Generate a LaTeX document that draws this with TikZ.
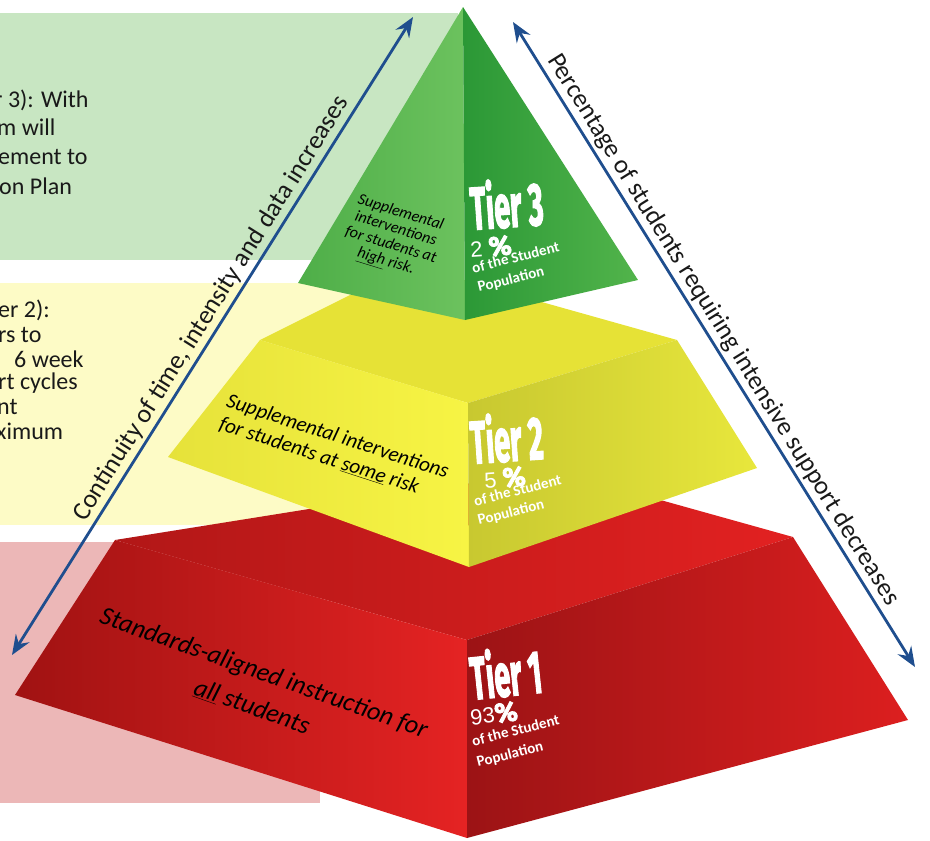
\documentclass[tikz,border=0pt]{standalone}
\usepackage{fontspec}
\setmainfont{Carlito}
\newfontfamily\headfont{Fira Sans}[BoldFeatures={FakeBold=3}]
\newfontfamily\numfont{Liberation Sans}
\usepackage{graphicx}
\usetikzlibrary{positioning, arrows.meta}
\definecolor{arrowblue}{HTML}{1F4E8E}
\definecolor{bgGreen}{HTML}{C8E6C2}
\definecolor{bgYellow}{HTML}{FDFBC6}
\definecolor{bgRed}{HTML}{ECB7B7}
\definecolor{greenLeftA}{HTML}{4EAE48}
\definecolor{greenLeftB}{HTML}{6CC25E}
\definecolor{greenRightA}{HTML}{2B9836}
\definecolor{greenRightB}{HTML}{52B44B}
\definecolor{yellowTop}{HTML}{E6E236}
\definecolor{yellowLeftA}{HTML}{E6E23A}
\definecolor{yellowLeftB}{HTML}{F7F444}
\definecolor{yellowRightA}{HTML}{C8C830}
\definecolor{yellowRightB}{HTML}{E8E73C}
\definecolor{redTopA}{HTML}{B21717}
\definecolor{redTopB}{HTML}{E22121}
\definecolor{redLeftA}{HTML}{A01212}
\definecolor{redLeftB}{HTML}{E52323}
\definecolor{redRightA}{HTML}{9C1315}
\definecolor{redRightB}{HTML}{DC1F1F}
\newcommand{\tiername}[1]{\scalebox{0.48}[1]{\headfont\bfseries #1}}

\begin{document}
\begin{tikzpicture}
        [
            x=1pt, y=-1pt,
            sidetext/.style={anchor=west, inner sep=0pt, text=black!90,
                             font=\fontsize{24}{28}\selectfont},
            axis/.style={{Stealth[length=20pt,width=16pt,inset=7pt]}-{Stealth[length=20pt,width=16pt,inset=7pt]},
                         line width=2.8pt, draw=arrowblue},
            axislabel/.style={sloped, above, inner sep=3pt, text=black!90,
                              font=\fontsize{26}{30}\selectfont},
            facetext/.style={inner sep=0pt, text=black},
            tiertitle/.style={anchor=west, inner sep=0pt, text=white,
                              font=\fontsize{60}{60}\selectfont},
            share/.style={anchor=west, inner sep=0pt, text=white},
            popline/.style={anchor=west, inner sep=0pt, text=white,
                            font=\fontsize{15}{17}\selectfont\bfseries, rotate=14}
        ]
        \useasboundingbox (0,0) rectangle (930,841);
        \fill [bgGreen] (0,13) rectangle (458,260);
        \fill [bgYellow] (0,283) rectangle (462,525);
        \fill [bgRed] (0,542) rectangle (320,803);

        \node (g1) [sidetext] at (-6,100) {r 3): With};
        \node (g2) [sidetext] at (-3,127) {m will};
        \node (g3) [sidetext] at (-2,157) {ement to};
        \node (g4) [sidetext] at (-1,186) {on Plan};
        \node (y1) [sidetext] at (-2,310) {er 2):};
        \node (y2) [sidetext] at (-2,335) {rs to};
        \node (y3) [sidetext] at (14,359) {6 week};
        \node (y4) [sidetext] at (-2,383) {rt cycles};
        \node (y5) [sidetext] at (-3,407) {nt};
        \node (y6) [sidetext] at (-4,431) {ximum};

        \coordinate (rTL) at (115,540);
        \coordinate (rBK) at (553,470);
        \coordinate (rTR) at (793,537);
        \coordinate (rTF) at (467,640);
        \coordinate (rBL) at (15,695);
        \coordinate (rBF) at (467,838);
        \coordinate (rBR) at (908,720);
        \coordinate (yTL) at (260,340);
        \coordinate (yBK) at (410,265);
        \coordinate (yTR) at (677,340);
        \coordinate (yTF) at (468,403);
        \coordinate (yBL) at (168,457);
        \coordinate (yBF) at (469,567);
        \coordinate (yBR) at (757,468);
        \coordinate (gA) at (463,7);
        \coordinate (gL) at (298,283);
        \coordinate (gF) at (465,320);
        \coordinate (gR) at (638,280);

        \shade [left color=redTopA, right color=redTopB] (rTL) -- (rBK) -- (rTR) -- (rTF) -- cycle;
        \shade [left color=redLeftA, right color=redLeftB] (rTL) -- (rTF) -- (rBF) -- (rBL) -- cycle;
        \shade [left color=redRightA, right color=redRightB] (rTF) -- (rTR) -- (rBR) -- (rBF) -- cycle;
        \fill [yellowTop] (yTL) -- (yBK) -- (yTR) -- (yTF) -- cycle;
        \shade [left color=yellowLeftA, right color=yellowLeftB] (yTL) -- (yTF) -- (yBF) -- (yBL) -- cycle;
        \shade [left color=yellowRightA, right color=yellowRightB] (yTF) -- (yTR) -- (yBR) -- (yBF) -- cycle;
        \shade [left color=greenLeftA, right color=greenLeftB] (gA) -- (gL) -- (gF) -- cycle;
        \shade [left color=greenRightA, right color=greenRightB] (gA) -- (gF) -- (gR) -- cycle;

        \coordinate (contA) at (12,655);
        \coordinate (contB) at (413,17);
        \coordinate (pctA) at (513,22);
        \coordinate (pctB) at (915,667);
        \draw [axis] (contA) -- node (contLabel) [axislabel, pos=0.53]
            {Continuity of time, intensity and data increases} (contB);
        \draw [axis] (pctA) -- node (pctLabel) [axislabel, pos=0.49]
            {Percentage of students requiring intensive support decreases} (pctB);

        \node (t3note) [facetext, rotate=-17, align=center,
                        font=\fontsize{16}{17}\selectfont\itshape] at (393,238)
            {Supplemental\\interventions\\for students at\\\underline{high} risk.};
        \node (t2note) [facetext, rotate=-18, align=left,
                        font=\fontsize{21}{24}\selectfont\itshape] at (334,448)
            {Supplemental interventions\\for students at \underline{some} risk};
        \node (t1note) [facetext, rotate=-19.5, align=center,
                        font=\fontsize{26}{36}\selectfont\itshape] at (258,690)
            {Standards-aligned instruction for\\\underline{all} students};

        \node (tier3) [tiertitle, rotate=4] at (470,206) {\tiername{Tier 3}};
        \node (pct3) [share, rotate=4] at (470,248)
            {{\numfont\fontsize{22}{22}\selectfont 2 }{\headfont\bfseries\fontsize{27}{27}\selectfont\%}};
        \node (of3) [popline] at (472,268) {of the Student};
        \node (pop3) [popline] at (478,288) {Population};

        \node (tier2) [tiertitle, rotate=4] at (470,440) {\tiername{Tier 2}};
        \node (pct2) [share, rotate=4] at (484,479)
            {{\numfont\fontsize{22}{22}\selectfont 5 }{\headfont\bfseries\fontsize{27}{27}\selectfont\%}};
        \node (of2) [popline] at (474,501) {of the Student};
        \node (pop2) [popline] at (478,521) {Population};

        \node (tier1) [tiertitle, rotate=6] at (470,676) {\tiername{Tier 1}};
        \node (pct1) [share, rotate=6] at (470,716)
            {{\numfont\fontsize{22}{22}\selectfont 93}{\headfont\bfseries\fontsize{27}{27}\selectfont\%}};
        \node (of1) [popline] at (472,741) {of the Student};
        \node (pop1) [popline] at (477,763) {Population};
    \end{tikzpicture}
\end{document}
